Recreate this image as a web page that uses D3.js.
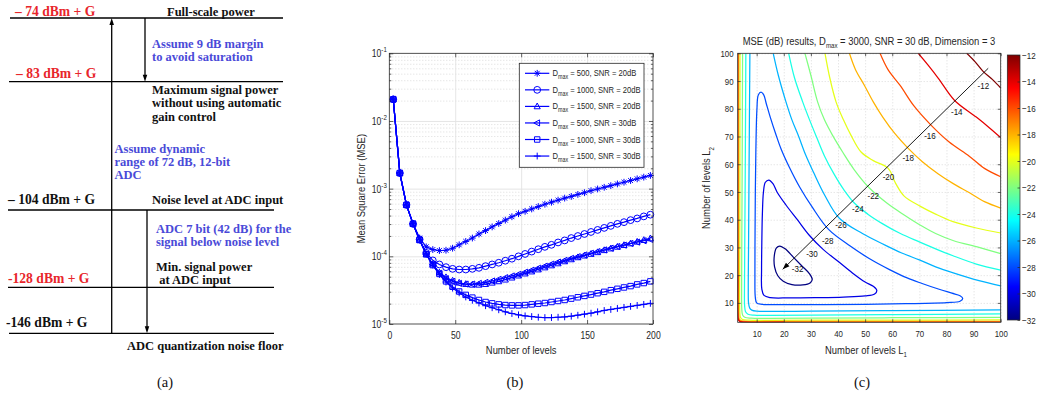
<!DOCTYPE html>
<html>
<head>
<meta charset="utf-8">
<script src="https://cdn.jsdelivr.net/npm/d3@7"></script>
<style>
body { margin: 0; background: #fff; }
svg { display: block; }
</style>
</head>
<body>
<svg id="fig" width="1038" height="395"></svg>
<script>
// ---------------- data: (a) power level diagram ----------------
const levelLabels = ['– 74 dBm + G', '– 83 dBm + G', '– 104 dBm + G', '-128 dBm + G', '-146 dBm + G'];
const levelIsSignal = [true, true, false, true, false]; // red labels
const blackNotes = [['Full-scale power'], ['Maximum signal power', 'without using automatic', 'gain control'],
    ['Noise level at ADC input'], ['Min. signal power', ' at ADC input'], ['ADC quantization noise floor']];
const blueNotes = [['Assume 9 dB margin', 'to avoid saturation'], ['Assume dynamic', 'range of 72 dB, 12-bit', 'ADC'],
    ['ADC 7 bit (42 dB) for the', 'signal below noise level']];

// ---------------- data: (b) MSE vs number of levels ----------------
const levels = [3, 8, 13, 18, 23, 28, 33, 38, 43, 48, 53, 58, 63, 68, 73, 78, 83, 88, 93, 98,
    103, 108, 113, 118, 123, 128, 133, 138, 143, 148, 153, 158, 163, 168, 173, 178, 183, 188, 193, 198];
// log10(MSE)
const mse500snr20 = [-1.68, -2.77, -3.24, -3.52, -3.73, -3.86, -3.90, -3.915, -3.91, -3.88, -3.83, -3.78, -3.73, -3.67, -3.62, -3.565, -3.515, -3.465, -3.415, -3.37,
    -3.335, -3.30, -3.265, -3.23, -3.20, -3.17, -3.14, -3.115, -3.085, -3.06, -3.03, -3.005, -2.98, -2.955, -2.93, -2.905, -2.88, -2.855, -2.83, -2.805];
const mse1000snr20 = [-1.68, -2.77, -3.24, -3.52, -3.75, -3.95, -4.06, -4.12, -4.16, -4.185, -4.195, -4.195, -4.185, -4.17, -4.145, -4.12, -4.095, -4.065, -4.035, -4.0,
    -3.965, -3.93, -3.895, -3.86, -3.83, -3.795, -3.765, -3.73, -3.70, -3.67, -3.64, -3.61, -3.58, -3.55, -3.52, -3.495, -3.465, -3.44, -3.41, -3.385];
const mse1500snr20 = [-1.68, -2.77, -3.24, -3.52, -3.76, -3.97, -4.12, -4.24, -4.31, -4.36, -4.39, -4.41, -4.42, -4.42, -4.41, -4.39, -4.37, -4.345, -4.315, -4.285,
    -4.255, -4.225, -4.195, -4.165, -4.135, -4.105, -4.075, -4.045, -4.015, -3.99, -3.965, -3.94, -3.91, -3.885, -3.86, -3.835, -3.81, -3.785, -3.76, -3.735];
const mse500snr30 = [-1.68, -2.77, -3.24, -3.52, -3.76, -3.97, -4.12, -4.25, -4.33, -4.37, -4.40, -4.41, -4.41, -4.40, -4.385, -4.365, -4.34, -4.315, -4.29, -4.265,
    -4.235, -4.205, -4.175, -4.145, -4.115, -4.085, -4.06, -4.03, -4.005, -3.98, -3.955, -3.93, -3.905, -3.88, -3.855, -3.835, -3.81, -3.79, -3.77, -3.75];
const mse1000snr30 = [-1.68, -2.77, -3.24, -3.52, -3.76, -3.97, -4.13, -4.26, -4.37, -4.45, -4.52, -4.57, -4.61, -4.645, -4.675, -4.695, -4.71, -4.72, -4.725, -4.725,
    -4.72, -4.71, -4.70, -4.69, -4.675, -4.66, -4.645, -4.625, -4.605, -4.585, -4.565, -4.545, -4.525, -4.50, -4.48, -4.46, -4.44, -4.415, -4.395, -4.37];
const mse1500snr30 = [-1.68, -2.77, -3.24, -3.52, -3.76, -3.97, -4.13, -4.27, -4.38, -4.47, -4.54, -4.60, -4.65, -4.69, -4.73, -4.76, -4.79, -4.82, -4.845, -4.865,
    -4.88, -4.89, -4.90, -4.905, -4.905, -4.90, -4.895, -4.885, -4.87, -4.855, -4.84, -4.82, -4.80, -4.785, -4.77, -4.755, -4.74, -4.725, -4.71, -4.695];
const seriesDmax = [500, 1000, 1500, 500, 1000, 1500];
const seriesSnr = [20, 20, 20, 30, 30, 30];
const seriesMarkers = ['star', 'circle', 'triUp', 'triLeft', 'square', 'plus'];

// ---------------- data: (c) MSE (dB) contours over (L1, L2) ----------------
const loop32 = [[18.5, 30.5], [20.5, 29.5], [23.5, 26.5], [26.5, 23.5], [29.5, 20.5], [30.5, 18.5], [29.8, 17.3], [27, 16.5], [23, 16.6],
    [19.8, 17.8], [17.8, 19.8], [16.6, 23], [16.5, 27], [17.3, 29.8]];
const loop30 = [[14.5, 54.3], [16, 53], [17.5, 50], [20.8, 45.3], [25, 40], [29.4, 34.4], [34.4, 29.4], [40, 25], [45.3, 20.8], [50, 17.5],
    [53, 16], [54.3, 14.5], [53.5, 13.2], [50, 12.5], [42, 12.1], [32, 11.9], [22, 11.8], [15, 11.9], [12.7, 12.7], [11.9, 15], [11.8, 22],
    [11.9, 32], [12.1, 42], [12.5, 50], [13.2, 53.5]];
const loop28 = [[11.6, 86], [12.6, 85], [13.5, 82], [15, 77], [17, 71], [19, 65.5], [22, 59], [26, 51.5], [30.5, 44.5], [36.5, 36.5],
    [44.5, 30.5], [51.5, 26], [59, 22], [65.5, 19], [71, 17], [77, 15], [82, 13.5], [85, 12.6], [86, 11.6], [85, 10.6], [80, 10.1], [65, 9.7],
    [50, 9.5], [35, 9.4], [20, 9.35], [12, 9.5], [10, 10], [9.5, 12], [9.35, 20], [9.4, 35], [9.5, 50], [9.7, 65], [10.1, 80], [10.6, 85]];
const arc26 = [[16.1, 100], [18, 92], [20.8, 82.5], [23, 76], [25.5, 70], [28, 63.5], [31, 57], [35, 49], [40.5, 40.5], [49, 35], [57, 31],
    [63.5, 28], [70, 25.5], [76, 23], [82.5, 20.8], [92, 18], [100, 16.1]];
const arc24 = [[21.8, 100], [24, 91], [27, 82.4], [29.5, 76], [32, 70], [35, 63], [38.5, 56.5], [42, 51], [46, 46], [51, 42], [56.5, 38.5],
    [63, 35], [70, 32], [76, 29.5], [82.4, 27], [91, 24], [100, 21.8]];
const arc22 = [[27.8, 100], [30, 92], [32.5, 82.4], [35, 76], [38, 70.4], [41.7, 64.4], [46, 58], [51.5, 51.5], [58, 46], [64.4, 41.7],
    [70.4, 38], [76, 35], [82.4, 32.5], [92, 30], [100, 27.8]];
const arc20 = [[35.2, 100], [37, 91], [39.3, 82.4], [42, 76], [44.8, 70.4], [48.5, 64.4], [53, 61.3], [58.5, 58.5], [61.3, 53], [64.4, 48.5],
    [70.4, 44.8], [76, 42], [82.4, 39.3], [91, 37], [100, 35.2]];
const arc18 = [[44.2, 100], [46.5, 94], [49.7, 88.5], [53, 82.5], [56.5, 77], [61, 71], [65.8, 65.8], [71, 61], [77, 56.5], [82.5, 53],
    [88.5, 49.7], [94, 46.5], [100, 44.2]];
const arc16 = [[55.5, 100], [58.5, 94], [62.9, 88.4], [68, 81], [74.2, 74.2], [81, 68], [88.4, 62.9], [94, 58.5], [100, 55.5]];
const arc14 = [[69.6, 100], [73, 96], [77, 91], [83, 83], [91, 77], [96, 73], [100, 69.6]];
const arc12 = [[87.5, 100], [90.5, 97], [93.5, 93.5], [97, 90.5], [100, 87.5]];
const edge26 = [[7.5, 100], [7.2, 60], [7.0, 30], [6.9, 15], [7.0, 10], [7.4, 8.2], [8.2, 7.4], [10, 7.0], [15, 6.9], [30, 7.0], [60, 7.2], [100, 7.5]];
const edge24 = [[6.0, 100], [5.8, 60], [5.6, 30], [5.5, 15], [5.55, 9], [5.9, 6.8], [6.8, 5.9], [9, 5.55], [15, 5.5], [30, 5.6], [60, 5.8], [100, 6.0]];
const edge22 = [[4.8, 100], [4.65, 60], [4.5, 30], [4.45, 15], [4.5, 8], [4.8, 5.6], [5.6, 4.8], [8, 4.5], [15, 4.45], [30, 4.5], [60, 4.65], [100, 4.8]];
const edge20 = [[3.85, 100], [3.8, 60], [3.75, 30], [3.7, 15], [3.75, 7], [4.0, 4.8], [4.8, 4.0], [7, 3.75], [15, 3.7], [30, 3.75], [60, 3.8], [100, 3.85]];
const edge18 = [[3.35, 100], [3.3, 50], [3.3, 15], [3.35, 6], [3.6, 4.2], [4.2, 3.6], [6, 3.35], [15, 3.3], [50, 3.3], [100, 3.35]];
const edge16 = [[3.12, 100], [3.1, 20], [3.15, 5], [3.4, 3.8], [3.8, 3.4], [5, 3.15], [20, 3.1], [100, 3.12]];
const edge14 = [[3.02, 20], [3.05, 6], [3.25, 3.9], [3.9, 3.25], [6, 3.05], [20, 3.02]];
const contourLabelText = ['-12', '-14', '-16', '-18', '-20', '-22', '-24', '-26', '-28', '-30', '-32'];
const contourLabelPos = [[93.6, 88.5], [83.8, 78.8], [73.9, 70.4], [65.9, 62.3], [58.6, 55.4], [53, 48.6], [47.3, 43.9], [41.1, 38.1],
    [36.2, 32.4], [30.4, 27.6], [25.1, 22.5]];
const arrowFrom = [95.4, 94.6];
const arrowTo = [19.6, 22.1];
const colorTicks = [-12, -14, -16, -18, -20, -22, -24, -26, -28, -30, -32];

// ---------------- helpers ----------------
const svg = d3.select('#fig');
const SX = 0.82; // the original sans text is narrow
const sans = 'Liberation Sans, Arial, Helvetica, sans-serif';
const serif = 'Liberation Serif, Times New Roman, serif';

function narrowText(g, x, y, size, anchor, rot) {
    return g.append('text')
        .attr('transform', `translate(${x},${y})` + (rot ? ` rotate(${rot})` : '') + ` scale(${SX},1)`)
        .attr('font-size', size).attr('text-anchor', anchor).attr('font-family', sans).attr('fill', '#262626');
}

function jet(t) {
    const c = v => Math.round(255 * Math.max(0, Math.min(1, v)));
    return `rgb(${c(1.5 - Math.abs(4 * t - 3))},${c(1.5 - Math.abs(4 * t - 2))},${c(1.5 - Math.abs(4 * t - 1))})`;
}

function markerPath(type, r) {
    const q = r * 0.72, s = r * 0.8;
    switch (type) {
        case 'star': return `M${-r},0H${r}M0,${-r}V${r}M${-q},${-q}L${q},${q}M${-q},${q}L${q},${-q}`;
        case 'circle': return `M${r},0A${r},${r} 0 1,1 ${-r},0A${r},${r} 0 1,1 ${r},0Z`;
        case 'triUp': return `M0,${-r}L${r * 0.9},${r * 0.7}L${-r * 0.9},${r * 0.7}Z`;
        case 'triLeft': return `M${-r},0L${r * 0.7},${-r * 0.9}L${r * 0.7},${r * 0.9}Z`;
        case 'square': return `M${-s},${-s}H${s}V${s}H${-s}Z`;
        default: return `M${-r},0H${r}M0,${-r}V${r}`;
    }
}

function arrowHead(g, x, y, angle, len, wid) {
    g.append('path')
        .attr('d', `M0,0L${-len},${-wid / 2}L${-len},${wid / 2}Z`)
        .attr('transform', `translate(${x},${y}) rotate(${angle})`)
        .attr('fill', '#000');
}

// ================= (a) =================
const pa = svg.append('g').attr('font-family', serif).attr('font-weight', 'bold').attr('font-size', 12.5);
const lineY = [18, 81.7, 210, 287.3, 333.3];
const lineX1 = [10, 9, 8, 8, 9];
const lineX2 = [283, 283, 274, 274, 274];
const labelX = [15, 16, 8, 8, 6];
const labelBase = [15.5, 78, 204, 282.5, 327];

levelLabels.forEach((lab, i) => {
    pa.append('line').attr('x1', lineX1[i]).attr('x2', lineX2[i]).attr('y1', lineY[i]).attr('y2', lineY[i])
        .attr('stroke', '#000').attr('stroke-width', 1.3);
    pa.append('text').attr('x', labelX[i]).attr('y', labelBase[i]).text(lab)
        .attr('font-size', 13.6).attr('fill', levelIsSignal[i] ? '#e8262b' : '#111');
});

const blackX = [167, 152, 152, 156, 127];
const blackY = [15.5, 94, 204, 271, 350];
blackNotes.forEach((lines, i) => {
    lines.forEach((t, j) => pa.append('text').attr('x', blackX[i]).attr('y', blackY[i] + j * 13.4)
        .attr('fill', '#111').attr('xml:space', 'preserve').text(t));
});
const blueX = [152, 114.5, 156];
const blueY = [47.5, 152.5, 233];
blueNotes.forEach((lines, i) => {
    lines.forEach((t, j) => pa.append('text').attr('x', blueX[i]).attr('y', blueY[i] + j * 13.4)
        .attr('fill', '#4a4ad8').text(t));
});

// arrows of the diagram
pa.append('line').attr('x1', 111.7).attr('x2', 111.7).attr('y1', 333.3).attr('y2', 22).attr('stroke', '#000').attr('stroke-width', 1.3);
arrowHead(pa, 111.7, 18, -90, 7, 4.5);
pa.append('line').attr('x1', 145).attr('x2', 145).attr('y1', 18).attr('y2', 77).attr('stroke', '#000').attr('stroke-width', 1.3);
arrowHead(pa, 145, 81.7, 90, 7, 4.5);
pa.append('line').attr('x1', 147).attr('x2', 147).attr('y1', 210).attr('y2', 328).attr('stroke', '#000').attr('stroke-width', 1.3);
arrowHead(pa, 147, 333.3, 90, 7, 4.5);

// ================= (b) =================
const bx = d3.scaleLinear().domain([0, 200]).range([389.3, 653]);
const by = d3.scaleLog().domain([1e-5, 1e-1]).range([324, 53.3]);
const pb = svg.append('g');
const decades = [1e-5, 1e-4, 1e-3, 1e-2, 1e-1];
const minorY = by.ticks().filter(v => !decades.some(d => Math.abs(d - v) / d < 1e-6));
const bW = bx(200) - bx(0), bH = by(1e-5) - by(1e-1);

// grid
pb.append('g').attr('transform', `translate(${bx(0)},0)`)
    .call(d3.axisLeft(by).tickValues(minorY).tickSize(-bW).tickFormat(''))
    .call(g => g.select('.domain').remove())
    .call(g => g.selectAll('line').attr('stroke', '#c4c4c4').attr('stroke-width', 0.6).attr('stroke-dasharray', '1,2'));
pb.append('g').attr('transform', `translate(${bx(0)},0)`)
    .call(d3.axisLeft(by).tickValues(decades.slice(1, 4)).tickSize(-bW).tickFormat(''))
    .call(g => g.select('.domain').remove())
    .call(g => g.selectAll('line').attr('stroke', '#e2e2e2').attr('stroke-width', 0.9));
pb.append('g').attr('transform', `translate(0,${by(1e-5)})`)
    .call(d3.axisBottom(bx).tickValues([50, 100, 150]).tickSize(-bH).tickFormat(''))
    .call(g => g.select('.domain').remove())
    .call(g => g.selectAll('line').attr('stroke', '#e2e2e2').attr('stroke-width', 0.9));

// series
const seriesData = [mse500snr20, mse1000snr20, mse1500snr20, mse500snr30, mse1000snr30, mse1500snr30];
const bLine = d3.line().x((d, i) => bx(levels[i])).y(d => by(Math.pow(10, d)));
seriesData.forEach((s, k) => {
    pb.append('path').attr('d', bLine(s)).attr('fill', 'none').attr('stroke', '#0000ff').attr('stroke-width', 1.2);
    pb.append('g').selectAll('path').data(s).join('path')
        .attr('d', markerPath(seriesMarkers[k], 3.4))
        .attr('transform', (d, i) => `translate(${bx(levels[i])},${by(Math.pow(10, d))})`)
        .attr('fill', 'none').attr('stroke', '#0000ff').attr('stroke-width', 1);
});

// axes on all four sides
const axCol = '#262626';
function styleAxis(g) {
    g.select('.domain').remove();
    g.selectAll('line').attr('stroke', axCol).attr('stroke-width', 0.7);
    g.selectAll('text').attr('font-family', sans).attr('fill', axCol).attr('transform', `scale(${SX},1)`);
}
pb.append('g').attr('transform', `translate(0,${by(1e-5)})`)
    .call(d3.axisBottom(bx).tickValues([0, 50, 100, 150, 200]).tickSizeInner(-4).tickSizeOuter(0).tickPadding(8))
    .call(styleAxis).call(g => g.selectAll('text').attr('font-size', 10.5));
pb.append('g').attr('transform', `translate(0,${by(1e-1)})`)
    .call(d3.axisTop(bx).tickValues([0, 50, 100, 150, 200]).tickSizeInner(-4).tickSizeOuter(0).tickFormat(''))
    .call(styleAxis);
[[bx(0), d3.axisLeft], [bx(200), d3.axisRight]].forEach(([x0, ax]) => {
    pb.append('g').attr('transform', `translate(${x0},0)`)
        .call(ax(by).tickValues(decades).tickSizeInner(-4).tickSizeOuter(0).tickFormat(''))
        .call(styleAxis);
    pb.append('g').attr('transform', `translate(${x0},0)`)
        .call(ax(by).tickValues(minorY).tickSizeInner(-2).tickSizeOuter(0).tickFormat(''))
        .call(styleAxis);
});
pb.append('rect').attr('x', bx(0)).attr('y', by(1e-1)).attr('width', bW).attr('height', bH)
    .attr('fill', 'none').attr('stroke', axCol).attr('stroke-width', 0.8);

// log tick labels 10^k
decades.forEach(v => {
    const t = narrowText(pb, bx(0) - 2.5, by(v) + 4, 10.5, 'end');
    t.append('tspan').text('10');
    t.append('tspan').attr('font-size', 7.5).attr('dy', -5).text(String(Math.round(Math.log10(v))));
});
narrowText(pb, bx(100), 353.5, 11.5, 'middle').text('Number of levels');
narrowText(pb, 365, by(1e-3), 11.5, 'middle', -90).text('Mean Square Error (MSE)');

// legend
const lg = pb.append('g');
lg.append('rect').attr('x', 519.3).attr('y', 63.3).attr('width', 124.7).attr('height', 104)
    .attr('fill', '#fff').attr('stroke', axCol).attr('stroke-width', 0.8);
seriesDmax.forEach((d, k) => {
    const yy = 73.3 + k * 16.55;
    lg.append('line').attr('x1', 525).attr('x2', 549.3).attr('y1', yy).attr('y2', yy)
        .attr('stroke', '#0000ff').attr('stroke-width', 1.2);
    lg.append('path').attr('d', markerPath(seriesMarkers[k], 3.4)).attr('transform', `translate(537.2,${yy})`)
        .attr('fill', 'none').attr('stroke', '#0000ff').attr('stroke-width', 1);
    const t = narrowText(lg, 552.5, yy + 3, 9.3, 'start');
    t.append('tspan').text('D');
    t.append('tspan').attr('font-size', 6.5).attr('dy', 3).text('max');
    t.append('tspan').attr('dy', -3).text(` = ${d}, SNR = ${seriesSnr[k]}dB`);
});

// ================= (c) =================
const cx = d3.scaleLinear().domain([3, 100]).range([737.7, 1000.7]);
const cy = d3.scaleLinear().domain([3, 100]).range([322.3, 53.3]);
const pc = svg.append('g');
const cTicks = d3.range(10, 101, 10);
const cW = cx(100) - cx(3), cH = cy(3) - cy(100);
const defs = svg.append('defs');
defs.append('clipPath').attr('id', 'cclip').append('rect')
    .attr('x', cx(3)).attr('y', cy(100)).attr('width', cW).attr('height', cH);

// dotted grid
pc.append('g').attr('transform', `translate(0,${cy(3)})`)
    .call(d3.axisBottom(cx).tickValues(cTicks).tickSize(-cH).tickFormat(''))
    .call(g => g.select('.domain').remove())
    .call(g => g.selectAll('line').attr('stroke', '#c4c4c4').attr('stroke-width', 0.6).attr('stroke-dasharray', '1,2'));
pc.append('g').attr('transform', `translate(${cx(3)},0)`)
    .call(d3.axisLeft(cy).tickValues(cTicks).tickSize(-cW).tickFormat(''))
    .call(g => g.select('.domain').remove())
    .call(g => g.selectAll('line').attr('stroke', '#c4c4c4').attr('stroke-width', 0.6).attr('stroke-dasharray', '1,2'));

// contour lines
const contourPieces = [[-32, loop32, true], [-30, loop30, true], [-28, loop28, true],
    [-26, arc26], [-26, edge26], [-24, arc24], [-24, edge24], [-22, arc22], [-22, edge22],
    [-20, arc20], [-20, edge20], [-18, arc18], [-18, edge18], [-16, arc16], [-16, edge16],
    [-14, arc14], [-14, edge14], [-12, arc12]];
const cz = d3.scaleLinear().domain([-32, -12]).range([0, 1]);
const openLine = d3.line().x(d => cx(d[0])).y(d => cy(d[1])).curve(d3.curveCatmullRom.alpha(0.5));
const closedLine = d3.line().x(d => cx(d[0])).y(d => cy(d[1])).curve(d3.curveCatmullRomClosed.alpha(0.5));
const cg = pc.append('g').attr('clip-path', 'url(#cclip)');
contourPieces.forEach(([lev, pts, closed]) => {
    cg.append('path').attr('d', (closed ? closedLine : openLine)(pts))
        .attr('fill', 'none').attr('stroke', jet(cz(lev))).attr('stroke-width', 1.25);
});

// arrow through the levels, and its labels
const ax1 = cx(arrowFrom[0]), ay1 = cy(arrowFrom[1]), ax2 = cx(arrowTo[0]), ay2 = cy(arrowTo[1]);
const ang = Math.atan2(ay2 - ay1, ax2 - ax1) * 180 / Math.PI;
pc.append('line').attr('x1', ax1).attr('y1', ay1).attr('x2', ax2).attr('y2', ay2).attr('stroke', '#000').attr('stroke-width', 0.9);
arrowHead(pc, ax2, ay2, ang, 7, 5);
contourLabelText.forEach((t, i) => {
    narrowText(pc, cx(contourLabelPos[i][0]), cy(contourLabelPos[i][1]) + 3.4, 9.8, 'middle').attr('fill', '#111').text(t);
});

// axes of (c)
pc.append('g').attr('transform', `translate(0,${cy(3)})`)
    .call(d3.axisBottom(cx).tickValues(cTicks).tickSizeInner(-3).tickSizeOuter(0).tickPadding(7.5))
    .call(styleAxis).call(g => g.selectAll('text').attr('font-size', 9.6));
pc.append('g').attr('transform', `translate(0,${cy(100)})`)
    .call(d3.axisTop(cx).tickValues(cTicks).tickSizeInner(-3).tickSizeOuter(0).tickFormat(''))
    .call(styleAxis);
pc.append('g').attr('transform', `translate(${cx(3)},0)`)
    .call(d3.axisLeft(cy).tickValues(cTicks).tickSizeInner(-3).tickSizeOuter(0).tickPadding(5))
    .call(styleAxis).call(g => g.selectAll('text').attr('font-size', 9.6));
pc.append('g').attr('transform', `translate(${cx(100)},0)`)
    .call(d3.axisRight(cy).tickValues(cTicks).tickSizeInner(-3).tickSizeOuter(0).tickFormat(''))
    .call(styleAxis);
pc.append('rect').attr('x', cx(3)).attr('y', cy(100)).attr('width', cW).attr('height', cH)
    .attr('fill', 'none').attr('stroke', axCol).attr('stroke-width', 0.8);

// title and axis labels
const title = narrowText(pc, 869, 44.5, 11.5, 'middle');
title.append('tspan').text('MSE (dB) results, D');
title.append('tspan').attr('font-size', 7.5).attr('dy', 3.5).text('max');
title.append('tspan').attr('dy', -3.5).text(' = 3000, SNR = 30 dB, Dimension = 3');
const xl = narrowText(pc, 866, 353.5, 11.5, 'middle');
xl.append('tspan').text('Number of levels L');
xl.append('tspan').attr('font-size', 7.5).attr('dy', 3.5).text('1');
const yl = narrowText(pc, 710, 188, 11.5, 'middle', -90);
yl.append('tspan').text('Number of levels L');
yl.append('tspan').attr('font-size', 7.5).attr('dy', 3.5).text('2');

// colorbar
const grad = defs.append('linearGradient').attr('id', 'jetGrad').attr('x1', 0).attr('y1', 1).attr('x2', 0).attr('y2', 0);
d3.range(0, 1.0001, 0.025).forEach(t => grad.append('stop').attr('offset', t).attr('stop-color', jet(t)));
const cbY = d3.scaleLinear().domain([-32, -12]).range([320, 55]);
pc.append('rect').attr('x', 1007.3).attr('y', cbY(-12)).attr('width', 12.7).attr('height', cbY(-32) - cbY(-12))
    .attr('fill', 'url(#jetGrad)').attr('stroke', axCol).attr('stroke-width', 0.7);
pc.append('g').attr('transform', 'translate(1020,0)')
    .call(d3.axisRight(cbY).tickValues(colorTicks).tickSizeInner(-2.5).tickSizeOuter(0).tickPadding(2.5))
    .call(styleAxis).call(g => g.selectAll('text').attr('font-size', 9.8));

// ================= captions =================
const caps = ['(a)', '(b)', '(c)'];
const capX = [165, 515, 862];
caps.forEach((c, i) => svg.append('text').attr('x', capX[i]).attr('y', 387).attr('text-anchor', 'middle')
    .attr('font-family', serif).attr('font-size', 14.5).attr('fill', '#111').text(c));
</script>
</body>
</html>
